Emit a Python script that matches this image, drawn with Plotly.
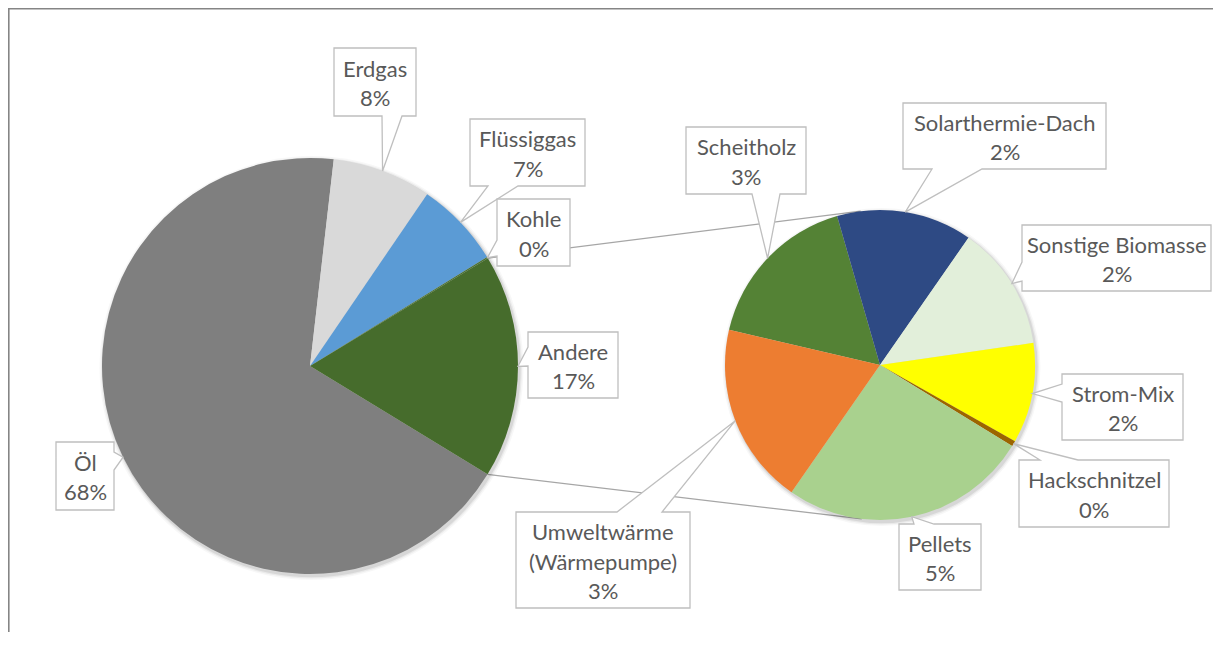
import math
import plotly.graph_objects as go

# ---------------- data ----------------
main_labels = ["Öl", "Erdgas", "Flüssiggas", "Kohle"]
main_values = [68.1, 7.7, 6.7, 0.1]
other_label = "Andere"

sec_labels = ["Scheitholz", "Solarthermie-Dach", "Sonstige Biomasse", "Strom-Mix",
              "Hackschnitzel", "Pellets", "Umweltwärme (Wärmepumpe)"]
sec_values = [2.94, 2.46, 2.27, 1.82, 0.10, 4.51, 3.30]

main_colors = ["#7f7f7f", "#d9d9d9", "#5b9bd5", "#4a7034", "#466c2c"]
sec_colors = ["#548235", "#2e4a84", "#e2efda", "#ffff00", "#9c6500", "#a9d18e", "#ed7d31"]

# ---------------- layout geometry (page pixels) ----------------
OFF = 8  # page body margin: figure starts at (8, 8)
W, H = 1205, 624
MAIN_C, MAIN_R, MAIN_ROT = (310, 366), 208, 121.4
SEC_C, SEC_R, SEC_ROT = (880, 365), 155, 283.1
FONT = "Lato"
FSIZE = 22
TXT = "#595959"
LINE_H = 29.5

other_value = sum(sec_values)
all_main_labels = main_labels + [other_label]
all_main_values = main_values + [other_value]
grand_total = sum(all_main_values)


def dom(c, r):
    cx, cy = c[0] - OFF, c[1] - OFF
    return dict(x=[(cx - r) / W, (cx + r) / W], y=[1 - (cy + r) / H, 1 - (cy - r) / H])


def angles(values, rot):
    tot = sum(values)
    out, a = [], rot
    for v in values:
        a0 = a
        a += 360.0 * v / tot
        out.append((a0, a))
    return out


def pt(c, r, deg):
    t = math.radians(deg)
    return (c[0] + r * math.sin(t), c[1] - r * math.cos(t))


def pct(v):
    return "%d%%" % int(v / grand_total * 100 + 0.5)


fig = go.Figure()
fig.add_trace(go.Scatter(x=[], y=[], showlegend=False, hoverinfo="skip"))

for c, r in [(MAIN_C, MAIN_R), (SEC_C, SEC_R)]:
    for dr, op in [(4, 0.03), (2.5, 0.05), (1.2, 0.08)]:
        fig.add_trace(go.Pie(values=[1], labels=[""], domain=dom((c[0] + 1.5, c[1] + 2), r + dr),
                             marker=dict(colors=["rgba(0,0,0,%g)" % op], line=dict(width=0)),
                             textinfo="none", hoverinfo="skip", showlegend=False, sort=False))

fig.add_trace(go.Pie(labels=all_main_labels, values=all_main_values, domain=dom(MAIN_C, MAIN_R),
                     rotation=MAIN_ROT, direction="clockwise", sort=False, textinfo="none",
                     marker=dict(colors=main_colors, line=dict(width=0)), showlegend=False,
                     hoverinfo="label+percent"))
fig.add_trace(go.Pie(labels=sec_labels, values=sec_values, domain=dom(SEC_C, SEC_R),
                     rotation=SEC_ROT, direction="clockwise", sort=False, textinfo="none",
                     marker=dict(colors=sec_colors, line=dict(width=0)), showlegend=False,
                     hoverinfo="label"))

shapes, annos = [], []

m_ang = angles(all_main_values, MAIN_ROT)
a_start, a_end = m_ang[-1]
for deg, sign in [(a_start, -1), (a_end, 1)]:
    p = pt(MAIN_C, MAIN_R, deg)
    dx, dy = p[0] - SEC_C[0], -(p[1] - SEC_C[1])
    d = math.hypot(dx, dy)
    base = math.atan2(dy, dx)
    t = base + sign * math.acos(SEC_R / d)
    q = (SEC_C[0] + SEC_R * math.cos(t), SEC_C[1] - SEC_R * math.sin(t))
    shapes.append(dict(type="line", xref="x", yref="y", x0=p[0], y0=p[1], x1=q[0], y1=q[1],
                       line=dict(color="#a6a6a6", width=1.3), layer="below"))

main_call = {
    "Öl": ((56, 442, 114, 510), "right", (452, 470)),
    "Erdgas": ((334, 48, 416, 116), "bottom", (382, 402)),
    "Flüssiggas": ((470, 119, 585, 186), "bottom", (488, 518)),
    "Kohle": ((497, 199, 570, 266), "left", (240, 256)),
    "Andere": ((528, 332, 618, 398), "left", (347, 366)),
}
sec_call = {
    "Scheitholz": ((686, 127, 806, 194), "bottom", (752, 780)),
    "Solarthermie-Dach": ((903, 103, 1106, 169), "bottom", (932, 982)),
    "Sonstige Biomasse": ((1022, 225, 1211, 291), "left", (262, 281)),
    "Strom-Mix": ((1062, 374, 1183, 440), "left", (384, 402)),
    "Hackschnitzel": ((1019, 460, 1169, 527), "top", (1040, 1078)),
    "Pellets": ((899, 524, 981, 590), "top", (914, 934)),
    "Umweltwärme (Wärmepumpe)": ((516, 512, 690, 608), "top", (617, 662)),
}


def callout_path(box, side, base, tip):
    x0, y0, x1, y1 = box
    b0, b1 = base
    tx, ty = tip
    P = [(x0, y0)]
    if side == "top":
        P += [(b0, y0), (tx, ty), (b1, y0)]
    P += [(x1, y0)]
    if side == "right":
        P += [(x1, b0), (tx, ty), (x1, b1)]
    P += [(x1, y1)]
    if side == "bottom":
        P += [(b1, y1), (tx, ty), (b0, y1)]
    P += [(x0, y1)]
    if side == "left":
        P += [(x0, b1), (tx, ty), (x0, b0)]
    return "M " + " L ".join("%.2f,%.2f" % q for q in P) + " Z"


def add_label(name, value, c, r, a0, a1, spec):
    box, side, base = spec
    tip = pt(c, r, (a0 + a1) / 2)
    shapes.append(dict(type="path", xref="x", yref="y", path=callout_path(box, side, base, tip),
                       fillcolor="white", line=dict(color="#bfbfbf", width=1.3), layer="above"))
    if name.startswith("Umweltwärme"):
        lines = ["Umweltwärme", "(Wärmepumpe)", pct(value)]
    else:
        lines = [name, pct(value)]
    cx = (box[0] + box[2]) / 2
    cy = (box[1] + box[3]) / 2
    n = len(lines)
    for i, s in enumerate(lines):
        annos.append(dict(x=cx, y=cy + (i - (n - 1) / 2) * LINE_H + 1, xref="x", yref="y", text=s,
                          showarrow=False, xanchor="center", yanchor="middle",
                          font=dict(family=FONT, size=FSIZE, color=TXT)))


for (lab, val), (a0, a1) in zip(zip(all_main_labels, all_main_values), m_ang):
    add_label(lab, val, MAIN_C, MAIN_R, a0, a1, main_call[lab])
for (lab, val), (a0, a1) in zip(zip(sec_labels, sec_values), angles(sec_values, SEC_ROT)):
    add_label(lab, val, SEC_C, SEC_R, a0, a1, sec_call[lab])

shapes.append(dict(type="rect", xref="x", yref="y", x0=OFF + 0.8, y0=OFF + 0.8, x1=1300, y1=700,
                   line=dict(color="#858585", width=1.6), fillcolor="rgba(0,0,0,0)", layer="above"))

fig.update_layout(
    width=W, height=H, margin=dict(l=0, r=0, t=0, b=0),
    paper_bgcolor="white", plot_bgcolor="white", showlegend=False,
    xaxis=dict(range=[OFF, W + OFF], visible=False, fixedrange=True, domain=[0, 1]),
    yaxis=dict(range=[H + OFF, OFF], visible=False, fixedrange=True, domain=[0, 1]),
    shapes=shapes, annotations=annos,
)
fig.write_html("out.html")
